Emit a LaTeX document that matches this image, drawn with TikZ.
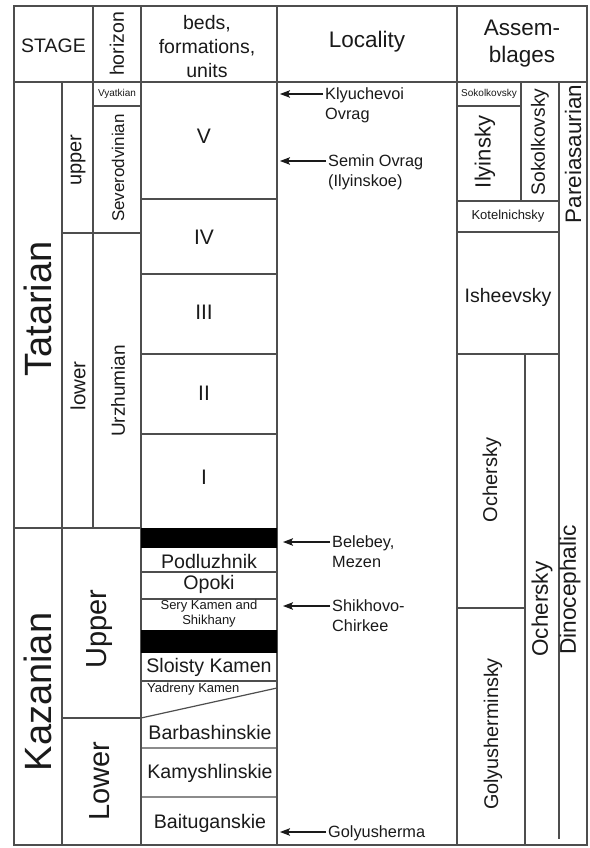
\documentclass[tikz,border=0pt]{standalone}
\usepackage{fontspec}
\setmainfont{Liberation Sans}
\usetikzlibrary{arrows.meta}
\definecolor{rule}{HTML}{4E4E4E}
\definecolor{ink}{HTML}{1A1A1A}
\newcommand{\fsz}[2]{\fontsize{#1}{#2}\selectfont}

\begin{document}
\begin{tikzpicture}[x=1pt,y=-1pt,>={Stealth[length=10pt,width=7.5pt,inset=2pt]},
 every node/.style={inner sep=0pt,text=ink},
 rl/.style={draw=rule,line width=1.2pt},
 up/.style={rotate=90},
 loc/.style={anchor=north west,align=left,font=\fsz{16.3}{20}},
 tip/.style={->,line width=1.2pt,ink}]
 \useasboundingbox (0,0) rectangle (589,848);
 \fill[white] (0,0) rectangle (589,848);
 % grid
 \draw[rl] (14,6) rectangle (587,845);
 \draw[rl] (14,82) -- (587,82);
 \draw[rl] (93,6) -- (93,528) (141,6) -- (141,845) (277,6) -- (277,845) (457,6) -- (457,845);
 \draw[rl] (62,82) -- (62,845);
 \draw[rl] (93,106) -- (141,106) (62,233) -- (141,233) (14,528) -- (141,528) (62,718) -- (141,718);
 \draw[rl] (141,199) -- (277,199) (141,274) -- (277,274) (141,354) -- (277,354) (141,434) -- (277,434);
 \draw[rl] (141,572) -- (277,572) (141,599) -- (277,599) (141,681) -- (277,681);
 \draw[rl] (141,718) -- (277,688) (141,748) -- (277,748) (141,797) -- (277,797);
 \fill[black] (141,528) rectangle (277,548);
 \fill[black] (141,630) rectangle (277,653);
 \draw[rl] (457,106) -- (521,106) (521,82) -- (521,201) (457,201) -- (559,201) (457,232) -- (559,232) (457,354) -- (559,354);
 \draw[rl] (559,82) -- (559,839) (525,354) -- (525,845) (457,608) -- (525,608);
 % header
 \node[font=\fsz{19.5}{24}] (stage) at (53.5,46) {STAGE};
 \node[up,font=\fsz{19.5}{24}] (horizon) at (117,44) {horizon};
 \node[align=center,font=\fsz{19.5}{24}] (beds) at (207,47) {beds,\\formations,\\units};
 \node[font=\fsz{22.5}{27}] (locality) at (367,42) {Locality};
 \node[align=center,font=\fsz{22.5}{27}] (assem) at (522,44) {Assem-\\blages};
 % stages and horizons
 \node[up,font=\fsz{38}{44}] (tatarian) at (38,309) {Tatarian};
 \node[up,font=\fsz{38}{44}] (kazanian) at (38,692) {Kazanian};
 \node[up,font=\fsz{20}{24}] (tupper) at (78,160) {upper};
 \node[up,font=\fsz{20.5}{24}] (tlower) at (78,386) {lower};
 \node[font=\fsz{10}{12}] (vyatkian) at (117,94) {Vyatkian};
 \node[up,font=\fsz{17}{20}] (severod) at (118,168) {Severodvinian};
 \node[up,font=\fsz{19}{22}] (urzhum) at (118,391) {Urzhumian};
 \node[up,font=\fsz{29}{34}] (kupper) at (100,629) {Upper};
 \node[up,font=\fsz{29}{34}] (klower) at (100,781) {Lower};
 % beds
 \node[font=\fsz{21}{25}] (v) at (204,136) {V};
 \node[font=\fsz{21}{25}] (iv) at (204,237) {IV};
 \node[font=\fsz{21}{25}] (iii) at (204,312) {III};
 \node[font=\fsz{21}{25}] (ii) at (204,393) {II};
 \node[font=\fsz{21}{25}] (i) at (204,477) {I};
 \node[font=\fsz{19.6}{23}] (podl) at (209,561) {Podluzhnik};
 \node[font=\fsz{19.6}{23}] (opoki) at (209,584) {Opoki};
 \node[align=center,font=\fsz{13}{15}] (sery) at (209,614) {Sery Kamen and\\Shikhany};
 \node[font=\fsz{19.6}{23}] (sloisty) at (209,667) {Sloisty Kamen};
 \node[anchor=west,font=\fsz{13}{15}] (yadreny) at (147,689) {Yadreny Kamen};
 \node[font=\fsz{19.6}{23}] (barb) at (210,732) {Barbashinskie};
 \node[font=\fsz{19.6}{23}] (kamy) at (210,773) {Kamyshlinskie};
 \node[font=\fsz{19.6}{23}] (baitu) at (210,823) {Baituganskie};
 % localities
 \node[loc] (klyu) at (325,87.3) {Klyuchevoi\\Ovrag};
 \node[loc] (semin) at (328,154.2) {Semin Ovrag\\(Ilyinskoe)};
 \node[loc] (beleb) at (332,535.2) {Belebey,\\Mezen};
 \node[loc] (shikh) at (332,599.2) {Shikhovo-\\Chirkee};
 \node[loc] (golyu) at (328,825.2) {Golyusherma};
 \coordinate (klyuTip) at (280,94);
 \coordinate (seminTip) at (280,161);
 \coordinate (belebTip) at (283,542);
 \coordinate (shikhTip) at (283,606);
 \coordinate (golyuTip) at (280,832);
 \draw[tip] ([xshift=-2pt]klyuTip -| klyu.west) -- (klyuTip);
 \draw[tip] ([xshift=-2pt]seminTip -| semin.west) -- (seminTip);
 \draw[tip] ([xshift=-2pt]belebTip -| beleb.west) -- (belebTip);
 \draw[tip] ([xshift=-2pt]shikhTip -| shikh.west) -- (shikhTip);
 \draw[tip] ([xshift=-2pt]golyuTip -| golyu.west) -- (golyuTip);
 % assemblages
 \node[font=\fsz{10}{12}] (sokolS) at (489,94) {Sokolkovsky};
 \node[up,font=\fsz{22}{26}] (ilyin) at (485,152) {Ilyinsky};
 \node[up,font=\fsz{19.2}{23}] (sokolB) at (540,142) {Sokolkovsky};
 \node[up,font=\fsz{22.4}{26}] (pareia) at (573,154) {Pareiasaurian};
 \node[font=\fsz{13}{15}] (kotel) at (508,216) {Kotelnichsky};
 \node[font=\fsz{19.5}{23}] (ishee) at (508,297) {Isheevsky};
 \node[up,font=\fsz{20}{24}] (ocherS) at (492,480) {Ochersky};
 \node[up,font=\fsz{19.8}{23}] (golyuA) at (493,734) {Golyusherminsky};
 \node[up,font=\fsz{22.5}{26}] (ocherB) at (542,609) {Ochersky};
 \node[up,font=\fsz{22.7}{26}] (dino) at (570,590) {Dinocephalic};
\end{tikzpicture}
\end{document}
